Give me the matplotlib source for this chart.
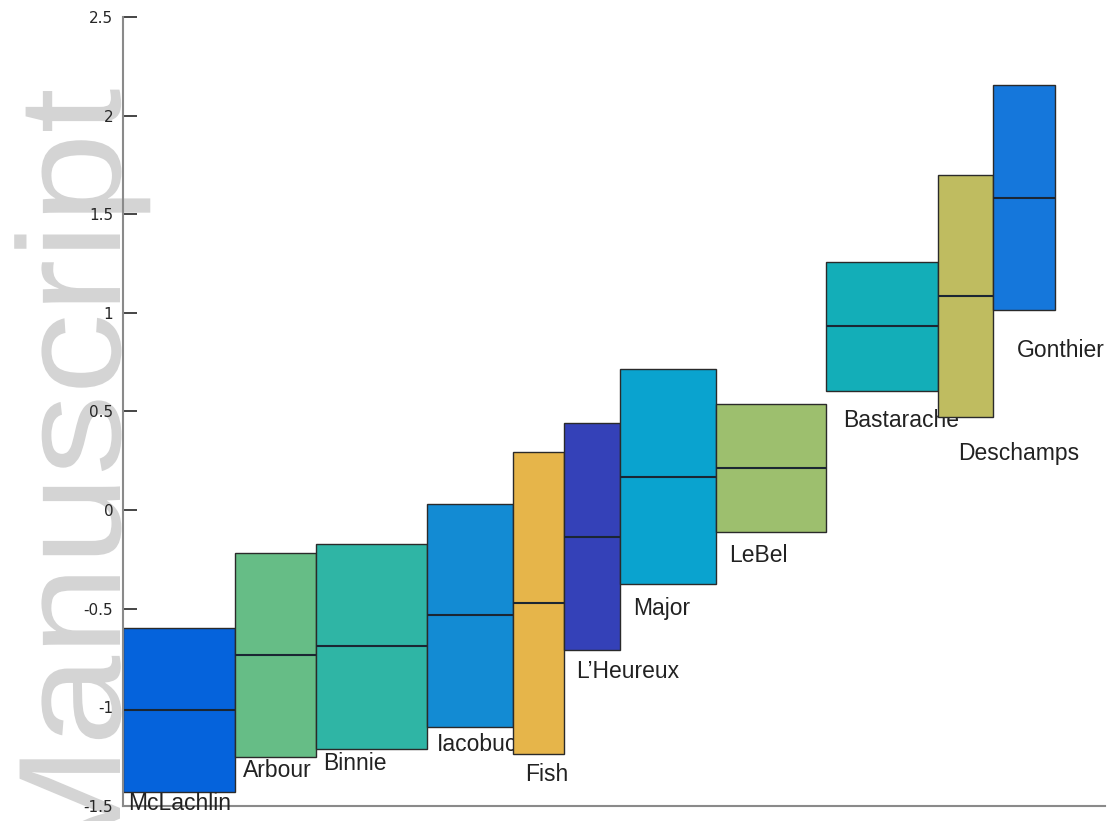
import matplotlib
matplotlib.use('Agg')
import matplotlib.pyplot as plt
import numpy as np
from matplotlib.textpath import TextPath
from matplotlib.patches import PathPatch
from matplotlib.font_manager import FontProperties
from matplotlib.transforms import Affine2D, IdentityTransform

# judges, ordered left to right
names = ['McLachlin', 'Arbour', 'Binnie', 'Iacobucci', 'Fish', "L\u2019Heureux",
         'Major', 'LeBel', 'Bastarache', 'Deschamps', 'Gonthier']
widths = [112, 81, 111, 86, 51, 56, 96, 110, 112, 55, 62]
upper = [-0.598, -0.218, -0.171, 0.030, 0.294, 0.442, 0.715, 0.536, 1.257, 1.698, 2.153]
median = [-1.013, -0.733, -0.691, -0.534, -0.473, -0.135, 0.169, 0.213, 0.931, 1.083, 1.583]
lower = [-1.430, -1.250, -1.211, -1.098, -1.237, -0.711, -0.373, -0.110, 0.603, 0.470, 1.014]
colors = ['#0563dc', '#66bd86', '#2fb5a5', '#138bd3', '#e6b54a', '#3441b8',
          '#0aa3cf', '#9dbf6e', '#13aeb8', '#bfbc60', '#1577db']

# label offsets from bar's lower-left corner (pixels)
label_dx = [5, 8, 7, 10, 12, 12, 13, 13, 17, 20, 24]
label_dy = [11, 14, 15, 18, 20, 21, 25, 24, 29, 36, 40]

fig = plt.figure(figsize=(11.18, 8.21), dpi=100)
ax = fig.add_axes([0.110, 0.0183, 0.878, 0.961])
ax.patch.set_alpha(0)

# faint watermark behind the plot (slightly stretched along its length)
wm = TextPath((0, 0), 'Manuscript', size=146, prop=FontProperties(family='Liberation Sans'))
wm_tr = Affine2D().scale(1.11, 1).rotate_deg(90).translate(120, -60) + IdentityTransform()
fig.add_artist(PathPatch(wm, transform=wm_tr, facecolor='#d4d4d4', edgecolor='none', zorder=-5))

lefts = np.concatenate([[0], np.cumsum(widths)[:-1]])
for i in range(len(names)):
    z = 2 + 2 * i
    ax.bar(lefts[i], upper[i] - lower[i], width=widths[i], bottom=lower[i], align='edge',
           color=colors[i], edgecolor='#2a2a2a', linewidth=1.0, zorder=z)
    ax.hlines(median[i], lefts[i], lefts[i] + widths[i], color='#1b2633', linewidth=1.5,
              zorder=z + 0.5)
    ax.annotate(names[i], (lefts[i], lower[i]), xytext=(label_dx[i], -label_dy[i]),
                textcoords='offset pixels', ha='left', va='center', fontsize=16.5,
                family='Liberation Sans', color='#222222', zorder=z + 1)

ax.set_xlim(0, 982)
ax.set_ylim(-1.5, 2.5)
yt = np.arange(-1.5, 2.51, 0.5)
ax.set_yticks(yt)
ax.set_yticklabels(['%g' % v for v in yt])
ax.set_xticks([])
ax.tick_params(axis='y', direction='in', length=10, width=1.2, pad=7,
               labelsize=11, colors='#262626')
for s in ['top', 'right']:
    ax.spines[s].set_visible(False)
for s in ['left', 'bottom']:
    ax.spines[s].set_color('#8a8a8a')
    ax.spines[s].set_linewidth(1.5)

plt.savefig('out.png', dpi=100)
